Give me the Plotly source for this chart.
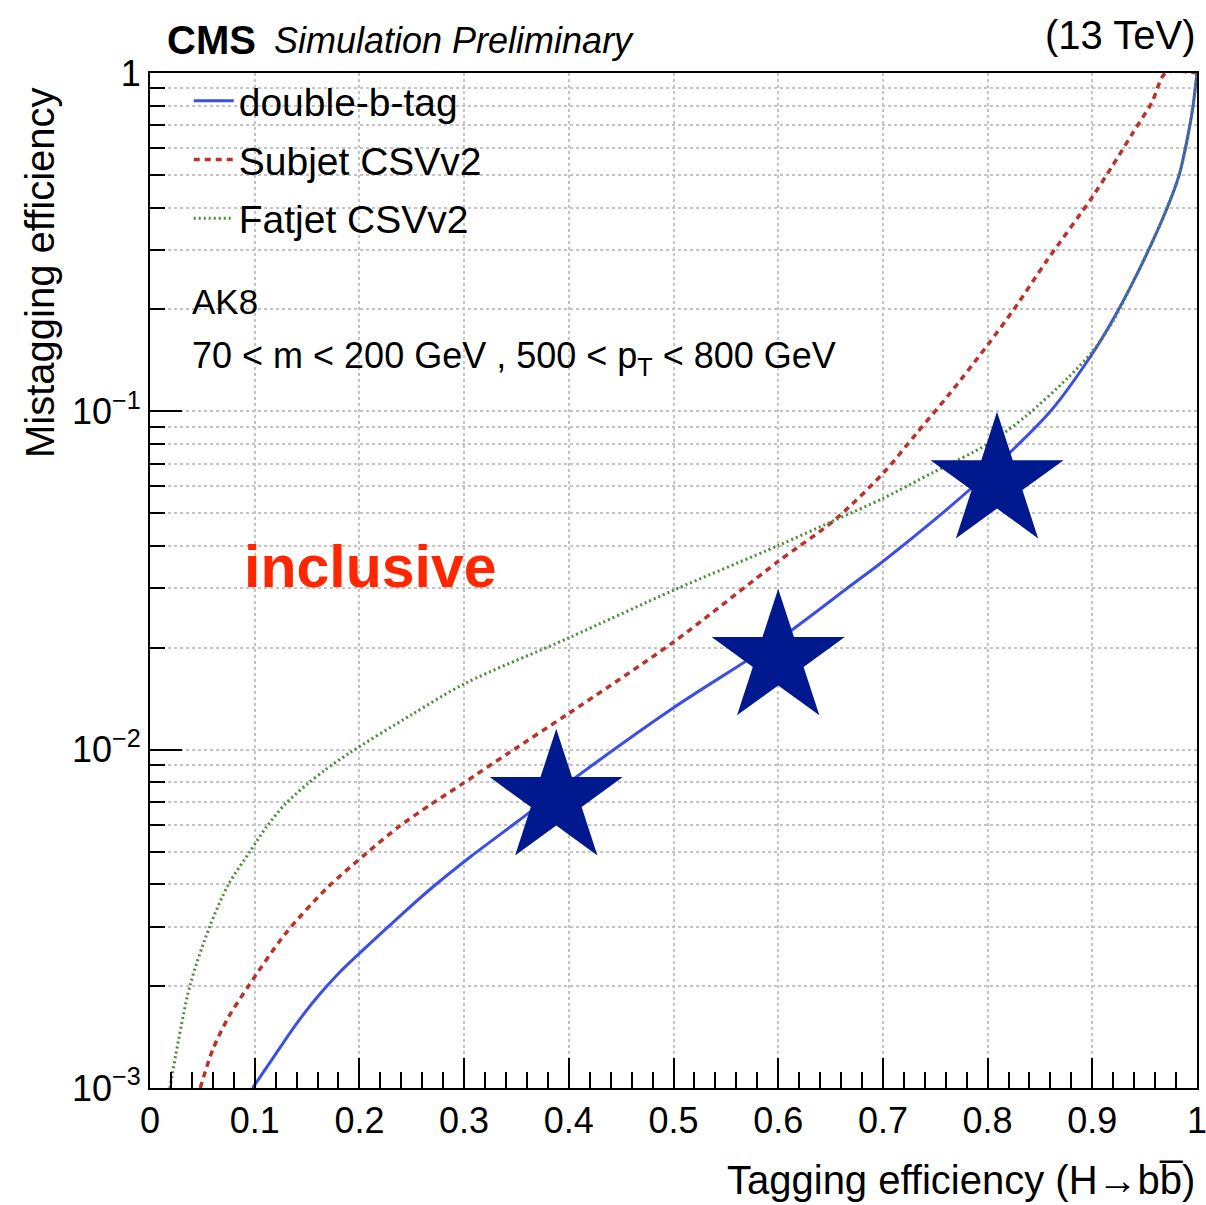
import plotly.graph_objects as go

# ---------------- data ----------------
dbt_x = [0.098, 0.12, 0.14, 0.16, 0.18, 0.2, 0.24, 0.269, 0.307, 0.35, 0.4, 0.5, 0.6, 0.669, 0.7,
         0.75, 0.8, 0.86, 0.9, 0.919, 0.938, 0.957, 0.973, 0.983, 0.991, 0.996, 1.0]
dbt_y = [1.0e-3, 1.26e-3, 1.55e-3, 1.86e-3, 2.18e-3, 2.5e-3, 3.25e-3, 3.9e-3, 4.85e-3, 6.1e-3,
         8.0e-3, 0.0133, 0.0211, 0.0305, 0.036, 0.048, 0.0655, 0.1, 0.148, 0.185, 0.238, 0.315,
         0.41, 0.50, 0.645, 0.79, 1.0]

sub_x = [0.048, 0.06, 0.075, 0.094, 0.129, 0.169, 0.207, 0.237, 0.267, 0.299, 0.343, 0.4, 0.5,
         0.6, 0.653, 0.7, 0.732, 0.764, 0.8, 0.825, 0.857, 0.9, 0.919, 0.938, 0.957, 0.97, 1.0]
sub_y = [1.0e-3, 1.3e-3, 1.62e-3, 2.0e-3, 2.85e-3, 3.9e-3, 4.95e-3, 5.9e-3, 6.85e-3, 7.95e-3,
         9.8e-3, 0.0128, 0.0208, 0.036, 0.0475, 0.0655, 0.086, 0.113, 0.157, 0.2, 0.28, 0.43,
         0.53, 0.66, 0.82, 1.0, 1.0]

fat_x = [0.019, 0.038, 0.057, 0.075, 0.0955, 0.111, 0.129, 0.15, 0.167, 0.191, 0.25, 0.301,
         0.4, 0.5, 0.6, 0.653, 0.7, 0.748, 0.8, 0.837, 0.876, 0.9, 0.92, 0.938, 0.957,
         0.973, 0.983, 0.991, 0.996, 1.0]
fat_y = [1.0e-3, 2.0e-3, 3.0e-3, 4.0e-3, 5.0e-3, 5.9e-3, 6.9e-3, 7.9e-3, 8.7e-3, 9.8e-3, 0.0127,
         0.0157, 0.0214, 0.0296, 0.0401, 0.0475, 0.0553, 0.066, 0.08, 0.097, 0.125, 0.15, 0.185,
         0.238, 0.315, 0.41, 0.50, 0.645, 0.79, 1.0]

star_x = [0.388, 0.600, 0.809]
star_y = [0.00716, 0.01858, 0.0619]

x_ticks = [0, 0.1, 0.2, 0.3, 0.4, 0.5, 0.6, 0.7, 0.8, 0.9, 1.0]
x_ticklabels = ["0", "0.1", "0.2", "0.3", "0.4", "0.5", "0.6", "0.7", "0.8", "0.9", "1"]
y_ticks = [1e-3, 1e-2, 1e-1, 1]
y_ticklabels = ["10<sup>−3</sup>", "10<sup>−2</sup>", "10<sup>−1</sup>", "1"]

series_names = ["double-b-tag", "Subjet CSVv2", "Fatjet CSVv2"]

# ---------------- figure ----------------
FONT = "Liberation Sans, Arial, Helvetica, sans-serif"
fig = go.Figure()

fig.add_trace(go.Scatter(x=dbt_x, y=dbt_y, mode="lines", name=series_names[0], legendgroup="a",
                         line=dict(color="#3b4ee6", width=3, shape="spline", smoothing=0.8)))
fig.add_trace(go.Scatter(x=sub_x, y=sub_y, mode="lines", name=series_names[1], legendgroup="b",
                         line=dict(color="#b8332b", width=3.5, dash="6px,5px", shape="spline",
                                   smoothing=0.8)))
fig.add_trace(go.Scatter(x=fat_x, y=fat_y, mode="lines", name=series_names[2], legendgroup="c",
                         line=dict(color="#4a8c3a", width=3, dash="2px,3px", shape="spline",
                                   smoothing=0.8)))
fig.add_trace(go.Scatter(x=star_x, y=star_y, mode="markers", showlegend=False,
                         marker=dict(symbol="star", size=100, color="#00198f",
                                     line=dict(width=0))))

minor_y = [m * 10 ** e for e in (-3, -2, -1) for m in range(2, 10)]

fig.update_layout(
    width=1206, height=1205,
    margin=dict(l=150, r=9, t=73, b=117),
    paper_bgcolor="white", plot_bgcolor="white",
    font=dict(family=FONT, color="black", size=36),
    showlegend=True,
    legend=dict(x=0.037, y=1.004, xanchor="left", yanchor="top", bgcolor="rgba(0,0,0,0)",
                font=dict(size=39, family=FONT), tracegroupgap=5, itemwidth=40),
    xaxis=dict(range=[0, 1], tickmode="array", tickvals=x_ticks, ticktext=x_ticklabels,
               automargin=False, ticklabeloverflow="allow",
               ticks="inside", ticklen=30, tickwidth=2, tickcolor="black",
               showline=True, linecolor="black", linewidth=2, mirror=True,
               showgrid=True, gridcolor="#c4c4c4", griddash="dot", gridwidth=1.5,
               zeroline=False, tickfont=dict(size=36),
               minor=dict(ticks="inside", ticklen=16, tickwidth=2, tickcolor="black",
                          dtick=0.02, tick0=0, showgrid=False)),
    yaxis=dict(type="log", range=[-3, 0], tickmode="array", tickvals=y_ticks,
               ticktext=y_ticklabels, automargin=False, ticklabeloverflow="allow",
               ticks="inside", ticklen=32, tickwidth=2, tickcolor="black",
               showline=True, linecolor="black", linewidth=2, mirror=True,
               showgrid=True, gridcolor="#c4c4c4", griddash="dot", gridwidth=1.5,
               zeroline=False, tickfont=dict(size=36),
               minor=dict(ticks="inside", ticklen=15, tickwidth=2, tickcolor="black",
                          tickmode="array", tickvals=minor_y, showgrid=True,
                          gridcolor="#c4c4c4", griddash="dot", gridwidth=1.5)),
)

ann = [
    dict(text="<b>CMS</b>", x=0.0143, y=1.0325, xanchor="left", yanchor="middle",
         font=dict(size=40)),
    dict(text="<i>Simulation Preliminary</i>", x=0.1165, y=1.0325, xanchor="left",
         yanchor="middle", font=dict(size=36)),
    dict(text="(13 TeV)", x=1.0, y=1.0374, xanchor="right", yanchor="middle",
         font=dict(size=40)),
    dict(text="AK8", x=0.0382, y=0.7744, xanchor="left", yanchor="middle", font=dict(size=35)),
    dict(text="70 < m < 200 GeV , 500 < p<sub>T</sub> < 800 GeV", x=0.0382, y=0.719,
         xanchor="left", yanchor="middle", font=dict(size=36)),
    dict(text="<b>inclusive</b>", x=0.0879, y=0.5133, xanchor="left", yanchor="middle",
         font=dict(size=59, color="#ff2600")),
    dict(text="Mistagging efficiency", x=-0.105, y=0.803, textangle=-90, xanchor="center",
         yanchor="middle", font=dict(size=40)),
    dict(text="Tagging efficiency (H→bb\u0305)", x=1.0, y=-0.0906, xanchor="right",
         yanchor="middle", font=dict(size=40)),
]
for a in ann:
    a.update(xref="paper", yref="paper", showarrow=False)
fig.update_layout(annotations=ann)

fig.write_html("out.html")
